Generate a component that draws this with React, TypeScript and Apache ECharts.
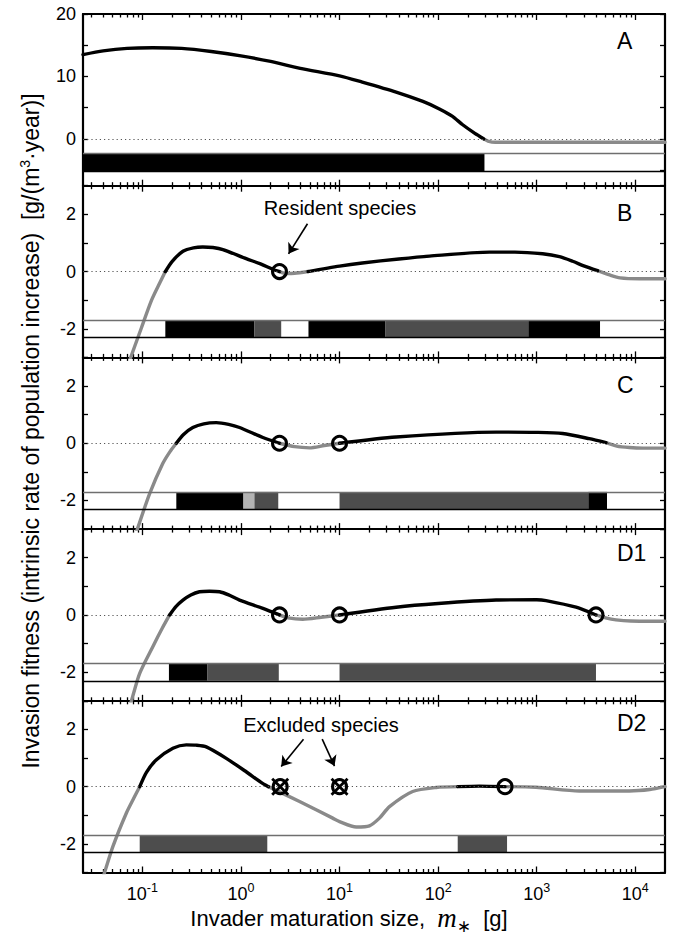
import React, { useEffect, useRef } from 'react';
import * as echarts from 'echarts';

const FONT = '"Liberation Sans", Arial, Helvetica, sans-serif';
const X_MIN = 0.025;
const X_MAX = 20000;

const panelNames = ['A', 'B', 'C', 'D1', 'D2'];
const xTickLabels = [0.1, 1, 10, 100, 1000, 10000];

const yTicksA = [-5, 0, 5, 10, 15, 20];
const yLabelsA = [0, 10, 20];
const yTicksBD = [-3, -2, -1, 0, 1, 2, 3];
const yLabelsBD = [-2, 0, 2];

// invasion fitness curves [maturation size (g), fitness]
const curveA: [number, number][] = [
  [0.025, 13.5], [0.04, 14.1], [0.07, 14.5], [0.127, 14.6], [0.25, 14.5], [0.5, 14.0],
  [1, 13.3], [2, 12.4], [4, 11.3], [10, 10.1], [17, 9.1], [37.5, 7.5], [70, 6.0],
  [103, 4.8], [140, 3.6], [176, 2.3], [230, 1.0], [283, 0.1], [290, 0], [320, -0.35],
  [380, -0.55], [1000, -0.55], [20000, -0.55],
];
const curveB: [number, number][] = [
  [0.07, -3.35], [0.0975, -1.98], [0.124, -1.0], [0.15, -0.4], [0.171, 0], [0.2, 0.35],
  [0.258, 0.71], [0.33, 0.83], [0.41, 0.86], [0.52, 0.84], [0.656, 0.77], [1.13, 0.45],
  [1.6, 0.26], [2.1, 0.08], [2.46, 0], [2.9, -0.07], [3.5, -0.06], [4.77, 0], [10, 0.19],
  [17, 0.3], [40, 0.44], [81.6, 0.54], [331, 0.68], [600, 0.68], [1148, 0.62], [1700, 0.52],
  [2312, 0.36], [3000, 0.2], [4140, 0.03], [5500, -0.12], [7000, -0.22], [11000, -0.25],
  [20000, -0.25],
];
const curveC: [number, number][] = [
  [0.08, -3.5], [0.09, -2.95], [0.1186, -1.76], [0.161, -0.71], [0.19, -0.3], [0.221, 0],
  [0.26, 0.3], [0.325, 0.55], [0.42, 0.68], [0.562, 0.72], [0.75, 0.66], [0.968, 0.55],
  [1.67, 0.2], [2.46, 0], [3.5, -0.12], [4.96, -0.16], [7.0, -0.08], [10, 0], [37.5, 0.22],
  [387, 0.39], [1000, 0.38], [1833, 0.34], [3412, 0.16], [5044, 0.02], [6500, -0.1],
  [8700, -0.15], [12000, -0.17], [20000, -0.17],
];
const curveD1: [number, number][] = [
  [0.072, -3.4], [0.0775, -3], [0.094, -2.04], [0.128, -1.1], [0.16, -0.45], [0.189, 0],
  [0.22, 0.3], [0.258, 0.52], [0.31, 0.7], [0.38, 0.81], [0.48, 0.83], [0.607, 0.81],
  [0.75, 0.7], [0.968, 0.52], [1.67, 0.23], [2.46, 0], [3.0, -0.1], [4.24, -0.15],
  [6.5, -0.08], [10, 0], [37.5, 0.27], [100, 0.4], [387, 0.52], [1000, 0.53], [1242, 0.5],
  [2506, 0.27], [3990, 0], [5000, -0.1], [6370, -0.17], [9000, -0.21], [20000, -0.22],
];
const curveD2: [number, number][] = [
  [0.038, -3.4], [0.0414, -3], [0.0503, -2.09], [0.0687, -0.93], [0.082, -0.4], [0.094, 0],
  [0.11, 0.5], [0.138, 0.93], [0.204, 1.34], [0.279, 1.46], [0.35, 1.45], [0.445, 1.39],
  [0.71, 0.99], [1.13, 0.52], [1.6, 0.15], [1.9, 0], [3.93, -0.52], [8.53, -1.1],
  [10, -1.22], [14.8, -1.41], [20.1, -1.37], [25.4, -1.1], [32.1, -0.7], [55.2, -0.17],
  [95.5, -0.03], [158, 0], [262, 0.02], [477, 0], [984, -0.02], [2700, -0.15],
  [8690, -0.15], [14000, -0.1], [20000, 0],
];

// niche bars [from (g), to (g), shade]
const barsA: [number, number, string][] = [[0.025, 295, 'k']];
const barsB: [number, number, string][] = [
  [0.171, 1.37, 'k'], [1.37, 2.56, 'd'], [4.84, 29, 'k'], [29, 822, 'd'], [822, 4385, 'k'],
];
const barsC: [number, number, string][] = [
  [0.221, 1.06, 'k'], [1.06, 1.37, 'l'], [1.37, 2.39, 'd'], [10, 3337, 'd'], [3337, 5160, 'k'],
];
const barsD1: [number, number, string][] = [
  [0.186, 0.458, 'k'], [0.458, 2.42, 'd'], [10, 3990, 'd'],
];
const barsD2: [number, number, string][] = [[0.094, 1.85, 'd'], [158, 500, 'd']];

// resident species (maturation size, g)
const residentsA: number[] = [];
const residentsB = [2.46];
const residentsC = [2.46, 10];
const residentsD1 = [2.46, 10, 3990];
const residentsD2 = [477];
const excludedD2 = [2.5, 10];

// annotation arrows [[from], [to]] in data coordinates
const residentArrow: [number, number][] = [[4.73, 1.67], [3.04, 0.62]];
const excludedArrows: [number, number][][] = [
  [[4.31, 1.66], [2.56, 0.7]],
  [[6.67, 1.66], [8.89, 0.72]],
];

const curves = [curveA, curveB, curveC, curveD1, curveD2];
const bars = [barsA, barsB, barsC, barsD1, barsD2];
const residents = [residentsA, residentsB, residentsC, residentsD1, residentsD2];

const SHADE: Record<string, string> = { k: '#000000', d: '#4d4d4d', l: '#b3b3b3' };
const BLACK = '#000000';
const GRAY = '#8a8a8a';

const GRID_LEFT = 83;
const GRID_W = 582;
const GRID_H = 171.7;
const GRID_TOPS = [14, 185.7, 357.4, 529.1, 700.8];
const LETTER_Y = [41, 213, 385, 553, 723];

function minorTickValues(): number[] {
  const out: number[] = [];
  for (let d = -2; d <= 4; d++) {
    for (let k = 2; k <= 9; k++) {
      const v = k * Math.pow(10, d);
      if (v > X_MIN && v < X_MAX) out.push(v);
    }
  }
  return out;
}

function splitRuns(curve: [number, number][]) {
  const runs: { pos: boolean; pts: [number, number][] }[] = [];
  for (let j = 0; j < curve.length - 1; j++) {
    const pos = (curve[j][1] + curve[j + 1][1]) / 2 > 0;
    const last = runs[runs.length - 1];
    if (last && last.pos === pos) last.pts.push(curve[j + 1]);
    else runs.push({ pos, pts: [curve[j], curve[j + 1]] });
  }
  return runs;
}

function buildOption() {
  const minors = minorTickValues();
  const grid: any[] = [];
  const xAxis: any[] = [];
  const yAxis: any[] = [];
  const series: any[] = [];

  const axisLineStyle = { color: '#000', width: 2.2 };
  const tickStyle = { color: '#000', width: 1.3 };
  const circleStyle = { color: 'rgba(255,255,255,0)', borderColor: '#000', borderWidth: 3, opacity: 1 };

  for (let i = 0; i < 5; i++) {
    grid.push({ left: GRID_LEFT, top: GRID_TOPS[i], width: GRID_W, height: GRID_H });
    const isLast = i === 4;
    const base = {
      type: 'log', logBase: 10, gridIndex: i, min: X_MIN, max: X_MAX,
      splitLine: { show: false }, axisLabel: { show: false },
    };
    xAxis.push({
      ...base, position: 'bottom',
      axisLine: { show: true, onZero: false, lineStyle: axisLineStyle },
      axisTick: { show: true, inside: true, length: 6, customValues: xTickLabels, lineStyle: tickStyle },
      axisLabel: isLast ? {
        show: true, customValues: xTickLabels, margin: 9, color: '#000',
        formatter: (v: number) => `{b|10}{s|${Math.round(Math.log10(v))}}`,
        rich: {
          b: { fontSize: 18, fontFamily: FONT, color: '#000' },
          s: { fontSize: 12.5, fontFamily: FONT, color: '#000', padding: [0, 0, 11, 0] },
        },
      } : { show: false },
    });
    xAxis.push({
      ...base, position: 'bottom',
      axisLine: { show: false, onZero: false },
      axisTick: { show: true, inside: true, length: 3.5, customValues: minors, lineStyle: tickStyle },
    });
    xAxis.push({
      ...base, position: 'top',
      axisLine: { show: true, onZero: false, lineStyle: axisLineStyle },
      axisTick: { show: true, inside: true, length: 6, customValues: xTickLabels, lineStyle: tickStyle },
    });
    xAxis.push({
      ...base, position: 'top',
      axisLine: { show: false, onZero: false },
      axisTick: { show: true, inside: true, length: 3.5, customValues: minors, lineStyle: tickStyle },
    });

    const isA = i === 0;
    const yMin = isA ? -7.5 : -3;
    const yMax = isA ? 20 : 3;
    const ticks = isA ? yTicksA : yTicksBD;
    const labels = isA ? yLabelsA : yLabelsBD;
    yAxis.push({
      type: 'value', gridIndex: i, min: yMin, max: yMax, position: 'left',
      splitLine: { show: false },
      axisLine: { show: true, onZero: false, lineStyle: axisLineStyle },
      axisTick: { show: true, inside: true, length: 5, customValues: ticks, lineStyle: tickStyle },
      axisLabel: { show: true, customValues: labels, fontSize: 18, fontFamily: FONT, color: '#000', margin: 7 },
    });
    yAxis.push({
      type: 'value', gridIndex: i, min: yMin, max: yMax, position: 'right',
      splitLine: { show: false },
      axisLine: { show: true, onZero: false, lineStyle: axisLineStyle },
      axisTick: { show: true, inside: true, length: 5, customValues: ticks, lineStyle: tickStyle },
      axisLabel: { show: false },
    });

    const xi = i * 4;
    const yi = i * 2;
    const band = isA ? [-2.3, -5.2] : [-1.7, -2.3];
    const panelBars = bars[i];

    series.push({
      type: 'custom', xAxisIndex: xi, yAxisIndex: yi, silent: true, z: 1,
      data: panelBars.map((b) => [b[0], b[1], band[0], band[1]]),
      encode: { x: [0, 1], y: [2, 3] },
      renderItem: (params: any, api: any) => {
        const p0 = api.coord([api.value(0), api.value(2)]);
        const p1 = api.coord([api.value(1), api.value(3)]);
        return {
          type: 'rect',
          shape: { x: p0[0], y: p0[1], width: p1[0] - p0[0], height: p1[1] - p0[1] },
          style: { fill: SHADE[panelBars[params.dataIndex][2]] },
        };
      },
      markLine: {
        silent: true, symbol: ['none', 'none'], label: { show: false },
        data: [
          { yAxis: band[0], lineStyle: { color: '#6f6f6f', width: 1.3, type: 'solid' } },
          { yAxis: band[1], lineStyle: { color: '#000', width: 1.3, type: 'solid' } },
          { yAxis: 0, lineStyle: { color: '#555', width: 1.2, type: [1.2, 3] } },
        ],
      },
    });

    splitRuns(curves[i]).forEach((run) => {
      series.push({
        type: 'line', xAxisIndex: xi, yAxisIndex: yi, silent: true,
        data: run.pts, showSymbol: false, smooth: 0.25, clip: true,
        z: run.pos ? 4 : 3,
        lineStyle: { color: run.pos ? BLACK : GRAY, width: 3.4, cap: 'round' },
      });
    });

    if (residents[i].length) {
      const s: any = {
        type: 'scatter', xAxisIndex: xi, yAxisIndex: yi, silent: true, z: 6,
        data: residents[i].map((m) => [m, 0]),
        symbol: 'circle', symbolSize: 14,
        itemStyle: circleStyle,
      };
      if (i === 1) {
        s.markLine = {
          silent: true, symbol: ['none', 'arrow'], symbolSize: 10, label: { show: false },
          lineStyle: { color: '#000', width: 1.6, type: 'solid' },
          data: [[{ coord: residentArrow[0] }, { coord: residentArrow[1] }]],
        };
      }
      series.push(s);
    }

    if (i === 4) {
      series.push({
        type: 'scatter', xAxisIndex: xi, yAxisIndex: yi, silent: true, z: 6,
        data: excludedD2.map((m) => [m, 0]),
        symbol: 'circle', symbolSize: 14,
        itemStyle: circleStyle,
        markLine: {
          silent: true, symbol: ['none', 'arrow'], symbolSize: 10, label: { show: false },
          lineStyle: { color: '#000', width: 1.6, type: 'solid' },
          data: excludedArrows.map((a) => [{ coord: a[0] }, { coord: a[1] }]),
        },
      });
      series.push({
        type: 'scatter', xAxisIndex: xi, yAxisIndex: yi, silent: true, z: 7,
        data: excludedD2.map((m) => [m, 0]),
        symbol: 'path://M0 0L10 10M10 0L0 10', symbolSize: 16,
        itemStyle: { color: 'rgba(0,0,0,0)', borderColor: '#000', borderWidth: 2.8, opacity: 1 },
      });
    }
  }

  const graphic: any[] = [];
  panelNames.forEach((name, i) => {
    graphic.push({
      type: 'text', x: 617, y: LETTER_Y[i], silent: true,
      style: { text: name, fontSize: 23, fontFamily: FONT, fill: '#000', align: 'left', verticalAlign: 'middle' },
    });
  });
  graphic.push({
    type: 'text', x: 340, y: 208, silent: true,
    style: { text: 'Resident species', fontSize: 20, fontFamily: FONT, fill: '#000', align: 'center', verticalAlign: 'middle' },
  });
  graphic.push({
    type: 'text', x: 321, y: 725, silent: true,
    style: { text: 'Excluded species', fontSize: 20, fontFamily: FONT, fill: '#000', align: 'center', verticalAlign: 'middle' },
  });
  graphic.push({
    type: 'text', x: 31, y: 431, rotation: Math.PI / 2, silent: true,
    style: {
      text: 'Invasion fitness (intrinsic rate of population increase)  [g/(m{sup|3}·year)]',
      fontSize: 23, fontFamily: FONT, fill: '#000', align: 'center', verticalAlign: 'middle',
      rich: { sup: { fontSize: 14, fontFamily: FONT, fill: '#000', padding: [0, 0, 12, 0] } },
    },
  });
  graphic.push({
    type: 'text', x: 349, y: 918, silent: true,
    style: {
      text: '{a|Invader maturation size,  }{m|m}{s|∗}{a|  [g]}',
      align: 'center', verticalAlign: 'middle',
      rich: {
        a: { fontSize: 22, fontFamily: FONT, fill: '#000' },
        m: { fontSize: 27, fontFamily: '"Liberation Serif", "DejaVu Serif", serif', fontStyle: 'italic', fill: '#000' },
        s: { fontSize: 17, fontFamily: '"DejaVu Sans", sans-serif', fill: '#000', padding: [16, 0, 0, 0] },
      },
    },
  });

  return {
    animation: false,
    backgroundColor: '#ffffff',
    textStyle: { fontFamily: FONT },
    grid, xAxis, yAxis, series, graphic,
  };
}

export default function App() {
  const ref = useRef<HTMLDivElement>(null);
  useEffect(() => {
    document.body.style.margin = '0';
    if (!ref.current) return;
    const chart = echarts.init(ref.current, undefined, { renderer: 'svg' });
    chart.setOption(buildOption() as any);
    return () => chart.dispose();
  }, []);
  return <div ref={ref} style={{ width: 676, height: 939 }} />;
}
